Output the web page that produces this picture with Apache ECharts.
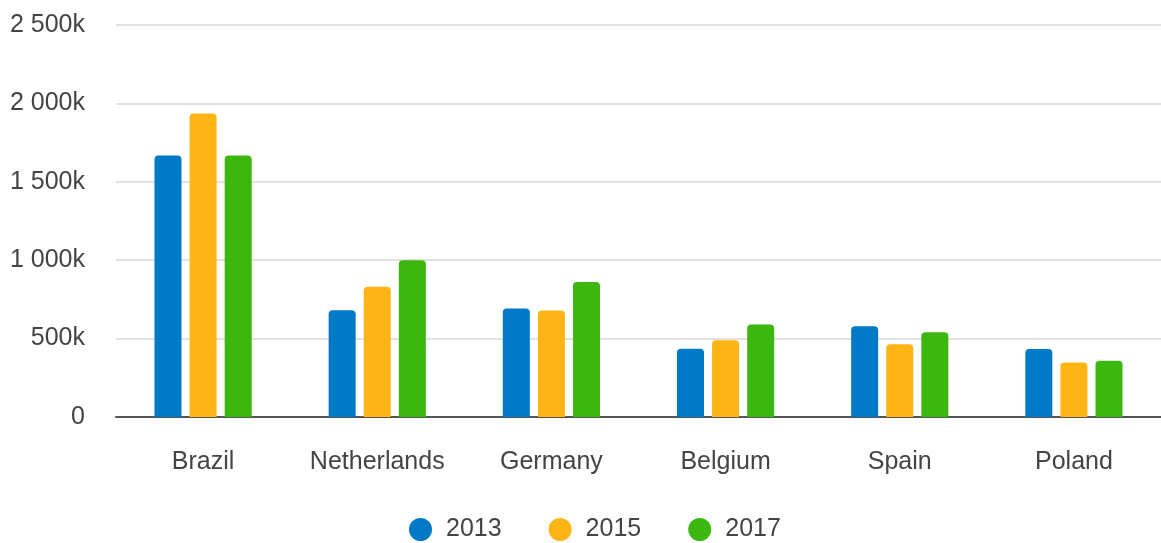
<!DOCTYPE html>
<html>
  <head>
    <meta charset="utf-8">
    <title>chart</title>
    <style>
      html, body { margin: 0; padding: 0; background: #fff; }
    </style>
  </head>
  <body>
    <div id="main" style="width: 1161px;height:543px;"></div>
    <script src="https://cdn.jsdelivr.net/npm/echarts@6/dist/echarts.min.js"></script>
    <script type="text/javascript">
        // values in thousands
        var countries = ['Brazil', 'Netherlands', 'Germany', 'Belgium', 'Spain', 'Poland'];
        var years = ['2013', '2015', '2017'];
        var v2013 = [1667, 681, 692, 436, 579, 434];
        var v2015 = [1936, 831, 679, 489, 464, 348];
        var v2017 = [1667, 1000, 861, 590, 540, 359];
        var colors = ['#0079c6', '#fdb515', '#3cb710'];

        function fmt(v) {
          if (v === 0) return '0';
          var s = String(v);
          if (v >= 1000) s = s.slice(0, s.length - 3) + ' ' + s.slice(-3);
          return s + 'k';
        }

        var font = 'Liberation Sans, Arial, sans-serif';
        var myChart = echarts.init(document.getElementById('main'));
        var all = [v2013, v2015, v2017];

        myChart.setOption({
            animation: false,
            color: colors,
            grid: { left: 116, right: 0, top: 25, bottom: 126 },
            legend: {
                bottom: -4,
                left: 404,
                icon: 'circle',
                itemWidth: 23,
                itemHeight: 23,
                itemGap: 47,
                textStyle: { fontSize: 25, color: '#444', fontFamily: font, padding: [0, 0, 0, 9] },
                data: years
            },
            xAxis: {
                type: 'category',
                data: countries,
                axisTick: { show: false },
                axisLine: { lineStyle: { color: '#555', width: 2 } },
                axisLabel: { interval: 0, fontSize: 25, color: '#444', margin: 33, fontFamily: font }
            },
            yAxis: {
                type: 'value',
                min: 0,
                max: 2500,
                interval: 500,
                axisLabel: { fontSize: 25, color: '#444', margin: 31, formatter: fmt, fontFamily: font },
                splitLine: { lineStyle: { color: '#e2e2e2', width: 2 } }
            },
            series: years.map(function (y, i) {
                return {
                    name: y,
                    type: 'bar',
                    data: all[i],
                    barWidth: 27,
                    barGap: '30%',
                    itemStyle: { borderRadius: [4, 4, 0, 0] }
                };
            })
        });
    </script>
  </body>
</html>
